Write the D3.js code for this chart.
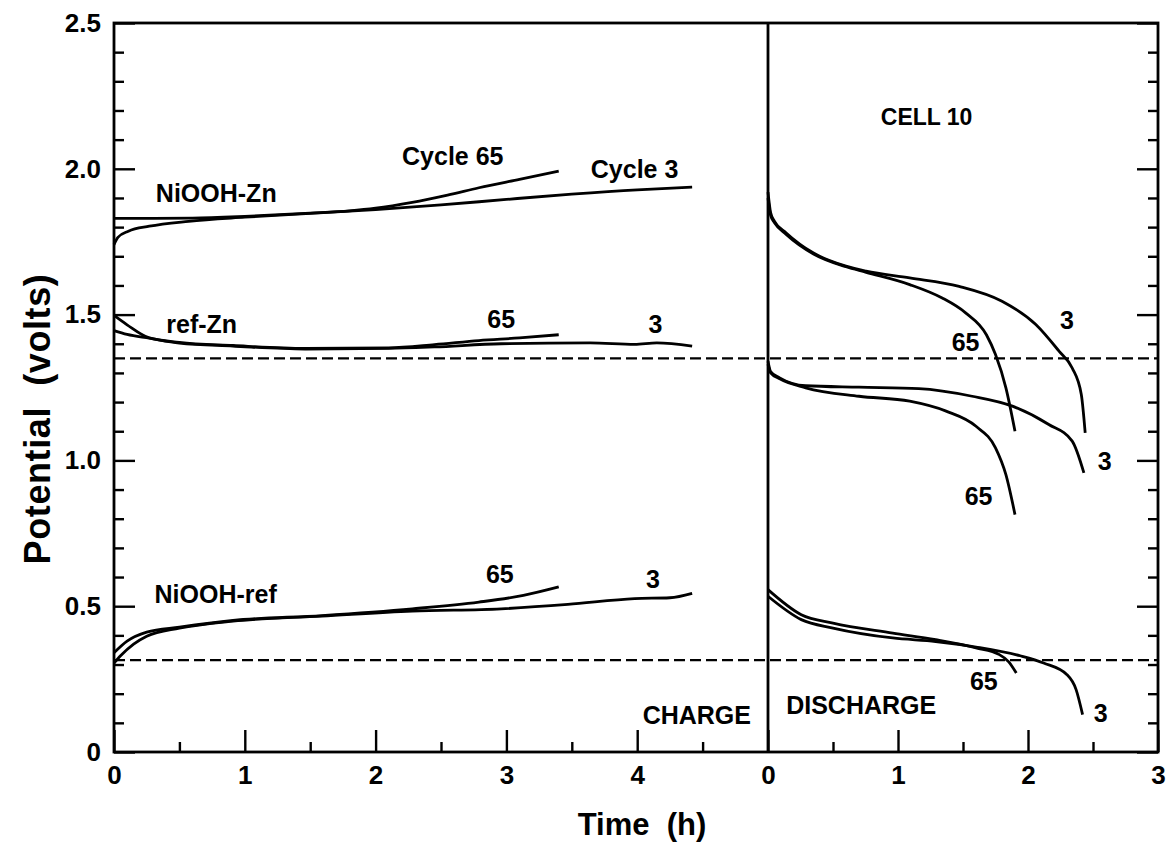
<!DOCTYPE html>
<html>
<head>
<meta charset="utf-8">
<script src="https://cdn.jsdelivr.net/npm/d3@7"></script>
<style>
  html, body { margin: 0; padding: 0; background: #fff; }
  svg { display: block; }
  text { font-family: "Liberation Sans", Arial, Helvetica, sans-serif; fill: #000; font-weight: bold; }
</style>
</head>
<body>
<svg id="chart" width="1169" height="843"></svg>
<script>
// ---- Cell 10: charge / discharge potentials, cycles 3 and 65 ----
// each series: [time (h), potential (V)]

// charge, NiOOH-Zn
const chgNiZn65 = [[0,1.830],[0.3,1.830],[0.6,1.831],[1.0,1.837],[1.5,1.848],[1.8,1.856],[2.0,1.865],[2.28,1.885],[2.55,1.910],[2.79,1.935],[3.1,1.964],[3.40,1.992]];
const chgNiZn3  = [[0,1.74],[0.03,1.765],[0.11,1.786],[0.27,1.803],[0.57,1.820],[1.0,1.834],[1.5,1.847],[2.0,1.860],[2.5,1.876],[3.0,1.895],[3.5,1.913],[4.0,1.928],[4.42,1.937]];
// charge, ref-Zn
const chgRefZn65 = [[0,1.497],[0.1,1.465],[0.27,1.420],[0.5,1.405],[0.91,1.394],[1.46,1.384],[2.1,1.386],[2.45,1.397],[2.79,1.411],[3.1,1.420],[3.40,1.431]];
const chgRefZn3  = [[0,1.445],[0.1,1.432],[0.27,1.419],[0.5,1.402],[0.91,1.392],[1.46,1.382],[2.1,1.384],[2.45,1.389],[2.96,1.400],[3.64,1.403],[3.98,1.398],[4.15,1.403],[4.42,1.392]];
// charge, NiOOH-ref
const chgNiRef65 = [[0,0.340],[0.1,0.380],[0.25,0.411],[0.5,0.428],[0.91,0.451],[1.59,0.468],[2.28,0.491],[2.79,0.514],[3.13,0.537],[3.40,0.566]];
const chgNiRef3  = [[0,0.305],[0.05,0.330],[0.15,0.370],[0.25,0.397],[0.5,0.425],[0.91,0.449],[1.59,0.466],[2.28,0.483],[2.96,0.491],[3.47,0.506],[3.98,0.526],[4.25,0.529],[4.42,0.544]];

// discharge, NiOOH-Zn
const disNiZn3  = [[0,1.92],[0.02,1.85],[0.05,1.82],[0.14,1.780],[0.35,1.711],[0.6,1.666],[0.755,1.649],[1.09,1.626],[1.47,1.597],[1.80,1.546],[2.06,1.466],[2.24,1.374],[2.34,1.317],[2.41,1.226],[2.44,1.094]];
const disNiZn65 = [[0,1.90],[0.02,1.84],[0.05,1.815],[0.14,1.775],[0.35,1.708],[0.6,1.664],[0.755,1.645],[1.09,1.603],[1.34,1.557],[1.52,1.506],[1.68,1.431],[1.75,1.363],[1.83,1.249],[1.90,1.100]];
// discharge, ref-Zn
const disRefZn3  = [[0,1.34],[0.02,1.305],[0.09,1.283],[0.29,1.256],[0.70,1.251],[1.16,1.246],[1.57,1.220],[1.88,1.186],[2.16,1.123],[2.34,1.066],[2.43,0.957]];
const disRefZn65 = [[0,1.33],[0.02,1.300],[0.09,1.280],[0.29,1.249],[0.70,1.220],[1.09,1.203],[1.37,1.169],[1.6,1.117],[1.75,1.043],[1.83,0.951],[1.90,0.814]];
// discharge, NiOOH-ref
const disNiRef65 = [[0,0.557],[0.256,0.471],[0.5,0.442],[0.96,0.408],[1.29,0.385],[1.6,0.357],[1.78,0.334],[1.85,0.310],[1.91,0.271]];
const disNiRef3  = [[0,0.534],[0.256,0.454],[0.5,0.425],[0.96,0.391],[1.29,0.379],[1.6,0.360],[1.94,0.330],[2.12,0.305],[2.30,0.265],[2.37,0.214],[2.42,0.128]];

// reference potential levels (dashed)
const refLevels = [1.35, 0.315];

// axis ticks
const yMajorTicks = [0, 0.5, 1.0, 1.5, 2.0, 2.5];
const yTickLabels = ["0", "0.5", "1.0", "1.5", "2.0", "2.5"];
const chargeTicks = [0, 1, 2, 3, 4];
const chargeMinor = [0.5, 1.5, 2.5, 3.5, 4.5];
const dischargeTicks = [0, 1, 2, 3];
const dischargeMinor = [0.5, 1.5, 2.5];

// text annotations: [label, time, potential, phase, anchor, size]
const annotations = [
  ["NiOOH-Zn", 0.32, 1.918, "c", "start", 25],
  ["Cycle 65", 2.59, 2.044, "c", "middle", 25],
  ["Cycle 3", 3.98, 2.000, "c", "middle", 25],
  ["ref-Zn", 0.40, 1.468, "c", "start", 25],
  ["65", 2.96, 1.485, "c", "middle", 25],
  ["3", 4.14, 1.468, "c", "middle", 25],
  ["NiOOH-ref", 0.31, 0.541, "c", "start", 25],
  ["65", 2.95, 0.609, "c", "middle", 25],
  ["3", 4.12, 0.592, "c", "middle", 25],
  ["CHARGE", 4.87, 0.126, "c", "end", 25],
  ["CELL 10", 1.22, 2.18, "d", "middle", 23],
  ["3", 2.30, 1.483, "d", "middle", 25],
  ["65", 1.52, 1.406, "d", "middle", 25],
  ["3", 2.59, 0.997, "d", "middle", 25],
  ["65", 1.62, 0.877, "d", "middle", 25],
  ["DISCHARGE", 0.14, 0.160, "d", "start", 25],
  ["65", 1.66, 0.242, "d", "middle", 25],
  ["3", 2.56, 0.134, "d", "middle", 25]
];

const svg = d3.select("#chart");
const plotL = 114, plotR = 1158, plotT = 23, plotB = 752, splitX = 768;

const y  = d3.scaleLinear().domain([0, 2.5]).range([plotB, plotT]);
const xC = d3.scaleLinear().domain([0, 5]).range([plotL, splitX]);
const xD = d3.scaleLinear().domain([0, 3]).range([splitX, plotR]);

svg.append("rect").attr("width", 1169).attr("height", 843).attr("fill", "#fff");

const lineW = 2.8;
const yMinor = d3.range(1, 25).map(i => i / 10).filter(v => Math.abs(v * 2 - Math.round(v * 2)) > 1e-6);

// every tick set gets its own group so the axis joins don't overwrite each other
function axisGroup(tx, ty, axis) {
  return svg.append("g").attr("transform", `translate(${tx},${ty})`).call(axis);
}
axisGroup(plotL, 0, d3.axisLeft(y).tickValues(yMinor).tickSize(-10).tickFormat(""));
axisGroup(plotL, 0, d3.axisLeft(y).tickValues(yMajorTicks).tickSize(-21).tickPadding(13)
  .tickFormat((d, i) => yTickLabels[i]));
axisGroup(plotR, 0, d3.axisRight(y).tickValues(yMinor).tickSize(-10).tickFormat(""));
axisGroup(plotR, 0, d3.axisRight(y).tickValues(yMajorTicks).tickSize(-21).tickFormat(""));
axisGroup(0, plotB, d3.axisBottom(xC).tickValues(chargeMinor).tickSize(-10).tickFormat(""));
axisGroup(0, plotB, d3.axisBottom(xC).tickValues(chargeTicks).tickSize(-22).tickPadding(14).tickFormat(d3.format("d")));
axisGroup(0, plotB, d3.axisBottom(xD).tickValues(dischargeMinor).tickSize(-10).tickFormat(""));
axisGroup(0, plotB, d3.axisBottom(xD).tickValues(dischargeTicks).tickSize(-22).tickPadding(14).tickFormat(d3.format("d")));

svg.selectAll(".domain").remove();
svg.selectAll(".tick line").attr("stroke", "#000").attr("stroke-width", 2.4);
svg.selectAll(".tick text").attr("font-size", 26).attr("fill", "#000")
  .style("font-family", "'Liberation Sans', Arial, sans-serif").style("font-weight", "bold");

// frame and charge/discharge divider
svg.append("rect").attr("x", plotL).attr("y", plotT)
  .attr("width", plotR - plotL).attr("height", plotB - plotT)
  .attr("fill", "none").attr("stroke", "#000").attr("stroke-width", 2.8);
svg.append("line").attr("x1", splitX).attr("x2", splitX).attr("y1", plotT).attr("y2", plotB)
  .attr("stroke", "#000").attr("stroke-width", 2.8);

// dashed reference levels
svg.selectAll(".ref").data(refLevels).enter().append("line")
  .attr("x1", plotL).attr("x2", plotR)
  .attr("y1", d => y(d)).attr("y2", d => y(d))
  .attr("stroke", "#000").attr("stroke-width", 2.4).attr("stroke-dasharray", "11,5");

// curves
const lineC = d3.line().x(d => xC(d[0])).y(d => y(d[1])).curve(d3.curveMonotoneX);
const lineD = d3.line().x(d => xD(d[0])).y(d => y(d[1])).curve(d3.curveMonotoneX);

[chgNiZn65, chgNiZn3, chgRefZn65, chgRefZn3, chgNiRef65, chgNiRef3].forEach(s =>
  svg.append("path").attr("d", lineC(s)).attr("fill", "none").attr("stroke", "#000")
    .attr("stroke-width", lineW).attr("stroke-linejoin", "round"));
[disNiZn3, disNiZn65, disRefZn3, disRefZn65, disNiRef65, disNiRef3].forEach(s =>
  svg.append("path").attr("d", lineD(s)).attr("fill", "none").attr("stroke", "#000")
    .attr("stroke-width", lineW).attr("stroke-linejoin", "round"));

// annotations
svg.selectAll(".ann").data(annotations).enter().append("text")
  .attr("x", d => (d[3] === "c" ? xC : xD)(d[1]))
  .attr("y", d => y(d[2]))
  .attr("dy", "0.36em")
  .attr("text-anchor", d => d[4])
  .attr("font-size", d => d[5])
  .text(d => d[0]);

// axis titles
svg.append("text").attr("x", 642).attr("y", 835).attr("text-anchor", "middle")
  .attr("font-size", 31).style("white-space", "pre").text("Time  (h)");
svg.append("text").attr("transform", "translate(50,419) rotate(-90)")
  .attr("text-anchor", "middle").attr("font-size", 36).attr("letter-spacing", 0.6)
  .style("white-space", "pre").text("Potential  (volts)");
</script>
</body>
</html>
